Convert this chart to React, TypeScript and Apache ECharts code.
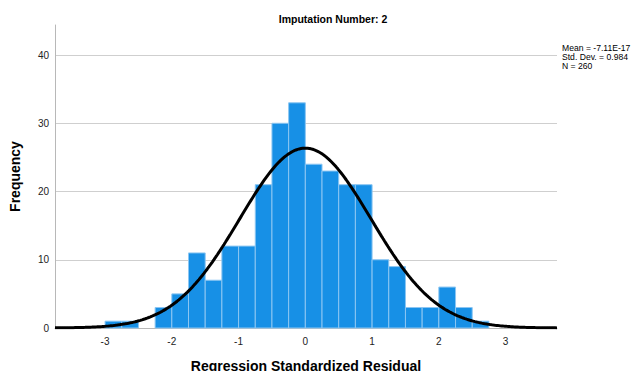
import React, { useEffect, useRef } from "react";
import * as echarts from "echarts";

// Histogram bins (lower edge, upper edge) and frequencies
const binStarts = [-3.0, -2.75, -2.5, -2.25, -2.0, -1.75, -1.5, -1.25, -1.0, -0.75, -0.5, -0.25, 0.0, 0.25, 0.5, 0.75, 1.0, 1.25, 1.5, 1.75, 2.0, 2.25, 2.5];
const binWidth = 0.25;
const frequencies = [1, 1, 0, 3, 5, 11, 7, 12, 12, 21, 30, 33, 24, 23, 21, 21, 10, 9, 3, 3, 6, 3, 1];

// Summary statistics
const mean = -7.11e-17;
const stdDev = 0.984;
const n = 260;
const statLines = ["Mean = -7.11E-17", "Std. Dev. = 0.984", "N = 260"];

const xTicks = [-3, -2, -1, 0, 1, 2, 3];
const xMin = -3.75;
const xMax = 3.77;
const yMax = 44.4;

const title = "Imputation Number: 2";
const xTitle = "Regression Standardized Residual";
const yTitle = "Frequency";

// Normal curve scaled to counts per bin
function normalCount(x: number): number {
  const z = (x - mean) / stdDev;
  return (n * binWidth * Math.exp(-0.5 * z * z)) / (stdDev * Math.sqrt(2 * Math.PI));
}

const FONT = "'Liberation Sans', Arial, sans-serif";

export default function App() {
  const ref = useRef<HTMLDivElement>(null);

  useEffect(() => {
    if (!ref.current) return;
    const chart = echarts.init(ref.current, null, { renderer: "svg" });

    const barData = binStarts.map((s, i) => [s, s + binWidth, frequencies[i]]);
    const curve: number[][] = [];
    const steps = 300;
    for (let i = 0; i <= steps; i++) {
      const x = xMin + ((xMax - xMin) * i) / steps;
      curve.push([x, normalCount(x)]);
    }

    chart.setOption({
      animation: false,
      backgroundColor: "#ffffff",
      textStyle: { fontFamily: FONT },
      grid: { left: 51, right: 82, top: 25, bottom: 51 },
      title: {
        text: title,
        left: 328,
        textAlign: "center",
        top: 8,
        textStyle: { fontSize: 10.5, fontWeight: "bold", color: "#000", fontFamily: FONT },
      },
      graphic: statLines.map((t, i) => ({
        type: "text",
        left: 562,
        top: 43 + i * 9,
        style: { text: t, fontSize: 8.6, fill: "#000", fontFamily: FONT },
      })),
      xAxis: {
        type: "value",
        min: xMin,
        max: xMax,
        name: xTitle,
        nameLocation: "middle",
        nameGap: 31,
        nameTextStyle: { fontSize: 14, fontWeight: "bold", color: "#000", fontFamily: FONT },
        axisLine: { show: true, onZero: false, lineStyle: { color: "#b8b8b8", width: 1 } },
        axisTick: { show: false },
        splitLine: { show: false },
        axisLabel: {
          customValues: xTicks,
          fontSize: 10,
          color: "#222",
          margin: 8,
          fontFamily: FONT,
        },
      },
      yAxis: {
        type: "value",
        min: 0,
        max: yMax,
        interval: 10,
        name: yTitle,
        nameLocation: "middle",
        nameGap: 33,
        nameTextStyle: { fontSize: 14, fontWeight: "bold", color: "#000", fontFamily: FONT },
        axisLine: { show: true, onZero: false, lineStyle: { color: "#b8b8b8", width: 1 } },
        axisTick: { show: false },
        axisLabel: { fontSize: 10, color: "#222", margin: 6, showMaxLabel: false, fontFamily: FONT },
        splitLine: { show: true, showMinLine: false, showMaxLine: false, lineStyle: { color: "#cfcfcf", width: 1 } },
      },
      series: [
        {
          type: "custom",
          data: barData,
          encode: { x: [0, 1], y: 2 },
          renderItem: (params: any, api: any) => {
            const x0 = api.value(0);
            const x1 = api.value(1);
            const v = api.value(2);
            if (!v) return null;
            const p0 = api.coord([x0, v]);
            const p1 = api.coord([x1, 0]);
            return {
              type: "rect",
              shape: { x: p0[0], y: p0[1], width: p1[0] - p0[0], height: p1[1] - p0[1] },
              style: { fill: "#1790e6", stroke: "#8cc6f2", lineWidth: 1 },
            };
          },
          z: 2,
        },
        {
          type: "line",
          data: curve,
          showSymbol: false,
          symbol: "none",
          lineStyle: { color: "#000", width: 3 },
          z: 3,
        },
      ],
    });

    return () => chart.dispose();
  }, []);

  return <div ref={ref} style={{ width: 639, height: 379, margin: -8 }} />;
}
